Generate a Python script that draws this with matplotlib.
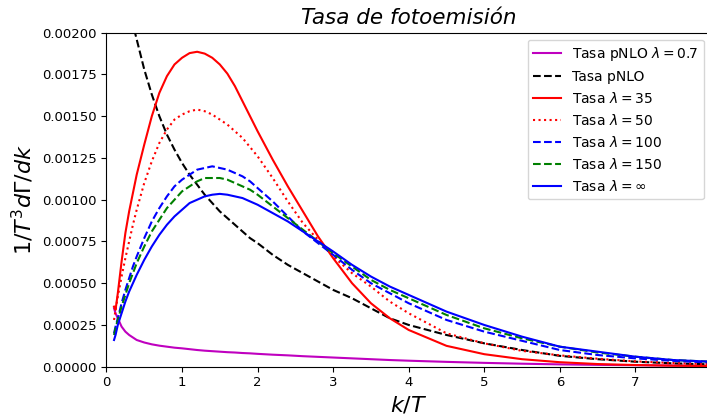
import matplotlib
matplotlib.use("Agg")
import matplotlib.pyplot as plt

k = [0.1, 0.12, 0.15, 0.2, 0.25, 0.3, 0.35, 0.4, 0.5, 0.6, 0.7, 0.8, 0.9, 1.0, 1.1, 1.2,
     1.3, 1.4, 1.5, 1.6, 1.7, 1.8, 1.9, 2.0, 2.2, 2.4, 2.6, 2.8, 3.0, 3.25, 3.5, 3.75,
     4.0, 4.5, 5.0, 5.5, 6.0, 6.5, 7.0, 7.5, 8.0]

pnlo_07 = [0.00035, 0.00032, 0.00029, 0.00024, 0.00021, 0.00019, 0.000175, 0.00016,
           0.000145, 0.000134, 0.000126, 0.00012, 0.000114, 0.00011, 0.000105, 0.0001,
           0.000096, 0.000093, 0.00009, 0.000087, 0.000085, 0.000082, 0.00008, 0.000077,
           0.000072, 0.000068, 0.000063, 0.000059, 0.000055, 0.00005, 0.000045, 0.00004,
           0.000036, 0.000029, 0.000023, 0.000018, 0.000014, 0.000011, 0.000009,
           0.000007, 0.000005]

k_pnlo = k[5:]
pnlo = [0.00215, 0.00205, 0.00196, 0.00178, 0.00163, 0.0015, 0.00139, 0.0013, 0.00122,
        0.00115, 0.00109, 0.00103, 0.00098, 0.00093, 0.00089, 0.00085, 0.00081, 0.00077,
        0.00074, 0.00067, 0.00061, 0.00056, 0.00051, 0.00046, 0.00041, 0.00035, 0.00029,
        0.00025, 0.00019, 0.00014, 0.0001, 0.000065, 0.000045, 0.00003, 0.00002,
        0.000014]

lam35 = [0.00036, 0.00034, 0.00044, 0.00063, 0.0008, 0.00093, 0.00104, 0.00115, 0.00133,
         0.0015, 0.00164, 0.00174, 0.00181, 0.00185, 0.001878, 0.001886, 0.001875,
         0.00185, 0.00181, 0.001755, 0.00168, 0.00159, 0.0015, 0.00141, 0.00124, 0.00108,
         0.00093, 0.00078, 0.00065, 0.0005, 0.00038, 0.00029, 0.00022, 0.000125, 0.000075,
         0.000045, 0.000027, 0.000016, 0.00001, 0.000006, 0.000004]

lam50 = [0.00028, 0.00034, 0.00042, 0.00054, 0.00065, 0.00075, 0.00085, 0.00094, 0.0011,
         0.00123, 0.00134, 0.00142, 0.00148, 0.00151, 0.00153, 0.00154, 0.00153, 0.00151,
         0.00148, 0.00145, 0.00141, 0.00137, 0.001315, 0.00126, 0.00113, 0.00099, 0.00086,
         0.00076, 0.00066, 0.00056, 0.00048, 0.00039, 0.00032, 0.0002, 0.00014, 0.000095,
         0.000068, 0.000048, 0.000032, 0.000022, 0.000015]

lam100 = [0.0002, 0.00024, 0.00029, 0.00038, 0.00046, 0.00053, 0.0006, 0.00066, 0.00077,
          0.00087, 0.00095, 0.00102, 0.00108, 0.00112, 0.00115, 0.00118, 0.00119, 0.0012,
          0.00119, 0.00118, 0.00116, 0.00114, 0.00111, 0.00107, 0.00099, 0.0009, 0.00081,
          0.00074, 0.00067, 0.00058, 0.0005, 0.00044, 0.00038, 0.00028, 0.00021, 0.000155,
          0.0001, 0.00007, 0.00005, 0.000035, 0.000025]

lam150 = [0.00019, 0.00023, 0.00028, 0.00036, 0.00043, 0.0005, 0.00056, 0.00062, 0.00072,
          0.00081, 0.00088, 0.00095, 0.001, 0.00105, 0.00108, 0.00111, 0.00113, 0.00113,
          0.00113, 0.00112, 0.0011, 0.00108, 0.00106, 0.00103, 0.00096, 0.00089, 0.00082,
          0.00075, 0.00068, 0.0006, 0.00052, 0.00046, 0.00041, 0.00031, 0.00023, 0.00017,
          0.00012, 0.000085, 0.00006, 0.00004, 0.00003]

laminf = [0.00016, 0.00019, 0.00025, 0.00032, 0.00039, 0.00045, 0.0005, 0.00055, 0.00064,
          0.00072, 0.00079, 0.00085, 0.0009, 0.00094, 0.00098, 0.001, 0.00102, 0.00103,
          0.001035, 0.00103, 0.00102, 0.00101, 0.00099, 0.00097, 0.00092, 0.00087, 0.00081,
          0.00075, 0.00069, 0.00061, 0.00054, 0.00048, 0.00043, 0.00033, 0.00025, 0.00018,
          0.00012, 0.00009, 0.00006, 0.00004, 0.00003]

fig = plt.figure(figsize=(7.07, 4.18), dpi=100)
ax = fig.add_axes([0.1506, 0.1227, 0.855, 0.799])

lw = 1.5
ax.plot(k, pnlo_07, color='m', lw=lw, label=r'Tasa pNLO $\lambda=0.7$')
ax.plot(k_pnlo, pnlo, color='k', ls='--', lw=lw, label='Tasa pNLO')
ax.plot(k, lam35, color='r', lw=lw, label=r'Tasa $\lambda=35$')
ax.plot(k, lam50, color='r', ls=':', lw=lw, label=r'Tasa $\lambda=50$')
ax.plot(k, lam100, color='b', ls='--', lw=lw, label=r'Tasa $\lambda=100$')
ax.plot(k, lam150, color='g', ls='--', lw=lw, label=r'Tasa $\lambda=150$')
ax.plot(k, laminf, color='b', lw=lw, label=r'Tasa $\lambda=\infty$')

ax.set_xlim(0, 8)
ax.set_ylim(0, 0.002)
ax.set_yticks([0, 0.00025, 0.0005, 0.00075, 0.001, 0.00125, 0.0015, 0.00175, 0.002])
ax.set_yticklabels(['0.00000', '0.00025', '0.00050', '0.00075', '0.00100', '0.00125',
                    '0.00150', '0.00175', '0.00200'])
ax.tick_params(labelsize=9.5)
ax.set_xlabel(r'$k/T$', fontsize=16)
ax.set_ylabel(r'$1/T^3 d\Gamma/dk$', fontsize=16)
ax.set_title('Tasa de fotoemisión', fontsize=15.5, style='italic')
ax.legend(loc='upper right', fontsize=10)

fig.savefig('out.png', dpi=100)
